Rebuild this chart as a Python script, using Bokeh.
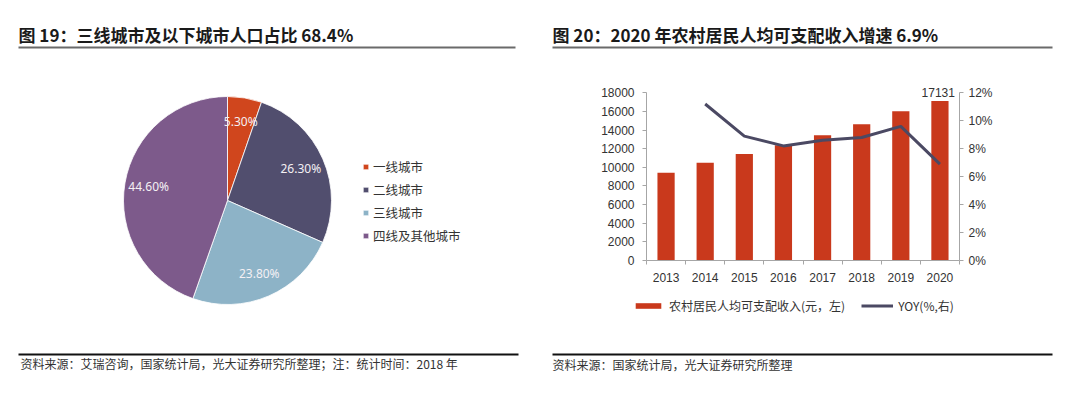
import math

from bokeh.core.properties import value
from bokeh.embed import file_html
from bokeh.layouts import column, row
from bokeh.models import (ColumnDataSource, FixedTicker, Legend, LegendItem,
                          LinearAxis, PrintfTickFormatter, Range1d)
from bokeh.plotting import figure
from bokeh.resources import INLINE

# ---- data -------------------------------------------------------------
city_tiers = ["一线城市", "二线城市", "三线城市", "四线及其他城市"]
tier_share = [5.3, 26.3, 23.8, 44.6]
tier_labels = ["5.30%", "26.30%", "23.80%", "44.60%"]
tier_colors = ["#D0461D", "#514E6E", "#8DB3C7", "#7D5A8B"]

years = [2013, 2014, 2015, 2016, 2017, 2018, 2019, 2020]
income = [9430, 10489, 11422, 12363, 13432, 14617, 16021, 17131]
yoy_years = [2014, 2015, 2016, 2017, 2018, 2019, 2020]
yoy = [11.2, 8.9, 8.2, 8.6, 8.8, 9.6, 6.9]

income_ticks = [0, 2000, 4000, 6000, 8000, 10000, 12000, 14000, 16000, 18000]
yoy_ticks = [0, 2, 4, 6, 8, 10, 12]

title_left = "图 19：三线城市及以下城市人口占比 68.4%"
title_right = "图 20：2020 年农村居民人均可支配收入增速 6.9%"
source_left = "资料来源：艾瑞咨询，国家统计局，光大证券研究所整理；注：统计时间：2018 年"
source_right = "资料来源：国家统计局，光大证券研究所整理"
bar_name = "农村居民人均可支配收入(元，左)"
line_name = "YOY(%,右)"

CJK = "Noto Sans CJK SC"
LATIN = "Liberation Sans"
BAR_RED = "#C9391C"
LINE_SLATE = "#4B4963"
TEXT = "#333333"
AXIS_GREY = "#A6A6A6"
NAN = float("nan")


def canvas(width, height):
    """A blank figure whose data units are pixels (y grows upward)."""
    f = figure(width=width, height=height, x_range=Range1d(0, width),
               y_range=Range1d(0, height), output_backend="svg",
               toolbar_location=None, x_axis_location=None,
               y_axis_location=None, min_border=0)
    f.grid.visible = False
    f.outline_line_color = None
    return f


def heading(f, x, y, text):
    f.text(x=[x], y=[y], text=[text], text_font=value(CJK),
           text_font_size="17px", text_font_style="bold",
           text_baseline="middle", text_color="#1a1a1a")


def note(f, x, y, text):
    f.text(x=[x], y=[y], text=[text], text_font=value(CJK),
           text_font_size="12px", text_baseline="middle", text_color=TEXT)


# ---- left panel: population share pie --------------------------------
H = 401
left = canvas(540, H)
heading(left, 18, H - 34, title_left)
left.segment(x0=[18], y0=[H - 47], x1=[515], y1=[H - 47],
             line_color="#6a6a6a", line_width=2)
left.segment(x0=[18], y0=[H - 354], x1=[518], y1=[H - 354],
             line_color="#111111", line_width=2)
note(left, 20, H - 363, source_left)

cx, cy, radius = 227, H - 200, 104
total = sum(tier_share)
starts, ends, mids = [], [], []
acc = 0.0
for s in tier_share:
    a0 = math.pi / 2 - acc / total * 2 * math.pi
    acc += s
    a1 = math.pi / 2 - acc / total * 2 * math.pi
    starts.append(a0)
    ends.append(a1)
    mids.append((a0 + a1) / 2)

pie_src = ColumnDataSource(dict(
    start=starts, end=ends, color=tier_colors, tier=city_tiers,
    lx=[cx + 80 * math.cos(m) for m in mids],
    ly=[cy + 80 * math.sin(m) for m in mids],
    label=tier_labels,
))
wedges = left.wedge(x=cx, y=cy, radius=radius, radius_units="screen",
                    start_angle="start", end_angle="end", direction="clock",
                    fill_color="color", line_color="white", line_width=0.8,
                    source=pie_src)
left.text(x="lx", y="ly", text="label", source=pie_src,
          text_font=value("Noto Sans"), text_font_size="12px",
          text_align="center", text_baseline="middle", text_color="#F4F0F4")

pie_legend = Legend(
    items=[LegendItem(label=t, renderers=[wedges], index=i)
           for i, t in enumerate(city_tiers)],
    location=(362, H - 245), orientation="vertical",
    glyph_width=7, glyph_height=7, label_height=20, spacing=3,
    label_standoff=4, padding=0, margin=0,
    label_text_font=CJK, label_text_font_size="12.5px",
    label_text_color=TEXT, border_line_color=None,
    background_fill_alpha=0,
)
left.add_layout(pie_legend)

# ---- right panel: rural income bars + growth line ---------------------
header = canvas(540, 60)
heading(header, 12, 60 - 34, title_right)
header.segment(x0=[12], y0=[60 - 47], x1=[512], y1=[60 - 47],
               line_color="#6a6a6a", line_width=2)

chart = figure(width=540, height=230, output_backend="svg",
               toolbar_location=None,
               x_range=Range1d(2012.5, 2020.5), y_range=Range1d(0, 19000),
               min_border_left=106, min_border_right=121,
               min_border_top=23, min_border_bottom=30)
chart.grid.visible = False
chart.outline_line_color = None
chart.extra_y_ranges = {"yoy": Range1d(0, 19000 / 1500)}

chart.vbar(x=years, top=income, width=0.44, fill_color=BAR_RED,
           line_color=None)
chart.line(x=yoy_years, y=yoy, y_range_name="yoy",
           line_color=LINE_SLATE, line_width=3)
chart.text(x=[years[-1]], y=[income[-1]], text=[str(income[-1])],
           x_offset=15, y_offset=-4, text_align="right",
           text_baseline="bottom", text_font=value(LATIN),
           text_font_size="12px", text_color=TEXT)

xaxis = chart.xaxis[0]
xaxis.ticker = FixedTicker(ticks=years,
                           minor_ticks=[y - 0.5 for y in years] + [years[-1] + 0.5])
xaxis.major_tick_out = 0
xaxis.major_tick_in = 0
xaxis.minor_tick_out = 4
xaxis.minor_tick_in = 0
xaxis.major_label_standoff = 8

yaxis = chart.yaxis[0]
yaxis.ticker = FixedTicker(ticks=income_ticks)
yaxis.bounds = (0, 18000)
yaxis.major_tick_out = 4
yaxis.major_tick_in = 0
yaxis.minor_tick_out = 0
yaxis.minor_tick_in = 0
yaxis.major_label_standoff = 8

raxis = LinearAxis(y_range_name="yoy", ticker=FixedTicker(ticks=yoy_ticks),
                   formatter=PrintfTickFormatter(format="%d%%"),
                   bounds=(0, 12))
raxis.major_tick_out = 4
raxis.major_tick_in = 0
raxis.minor_tick_out = 0
raxis.minor_tick_in = 0
raxis.major_label_standoff = 5
chart.add_layout(raxis, "right")

for ax in (xaxis, yaxis, raxis):
    ax.axis_line_color = AXIS_GREY
    ax.major_tick_line_color = AXIS_GREY
    ax.minor_tick_line_color = AXIS_GREY
    ax.major_label_text_font = LATIN
    ax.major_label_text_font_size = "12px"
    ax.major_label_text_color = TEXT

# legend strip under the chart: key renderers carry the series styles
# but hold only a NaN point, so nothing but their legend swatch is drawn
key = canvas(540, 40)
bar_key = key.vbar(x=[NAN], top=[NAN], width=0.44, fill_color=BAR_RED,
                   line_color=None)
line_key = key.line(x=[NAN], y=[NAN], line_color=LINE_SLATE, line_width=3)
chart_legend = Legend(
    items=[LegendItem(label=bar_name, renderers=[bar_key]),
           LegendItem(label=line_name, renderers=[line_key])],
    orientation="horizontal", location=(92, 40 - 24),
    glyph_width=32, glyph_height=7, label_height=16, spacing=16,
    label_standoff=5, padding=0, margin=0,
    label_text_font=CJK, label_text_font_size="12px",
    label_text_color=TEXT, border_line_color=None,
    background_fill_alpha=0,
)
key.add_layout(chart_legend)

footer = canvas(540, 71)
footer.segment(x0=[12], y0=[71 - 24], x1=[512], y1=[71 - 24],
               line_color="#111111", line_width=2)
note(footer, 12, 71 - 33.5, source_right)

# the chart sits in its own row so its frame does not shift the strips
layout = row(left, column(header, row(chart), key, footer))

with open("out.html", "w") as fh:
    fh.write(file_html(layout, INLINE))
